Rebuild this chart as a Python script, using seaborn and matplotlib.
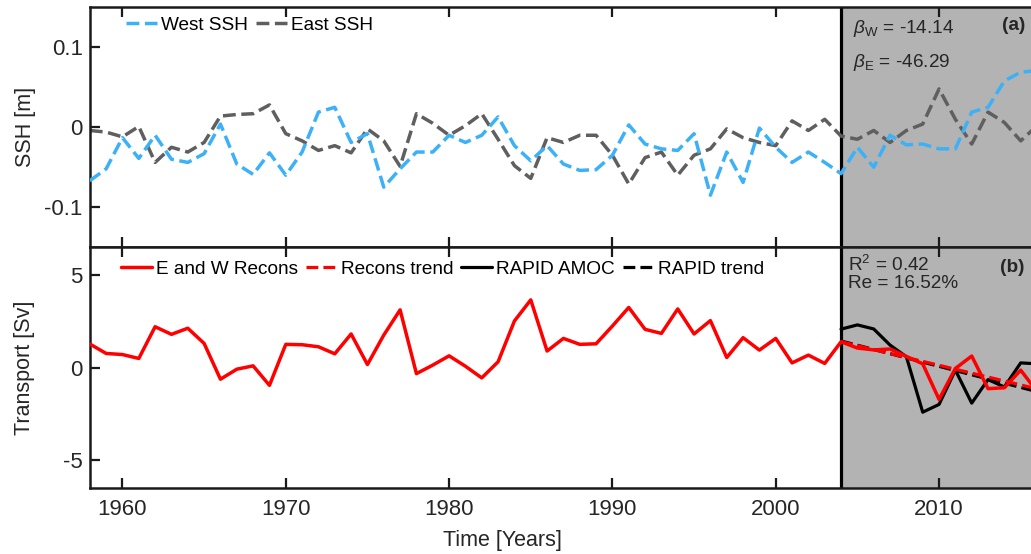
import numpy as np
import pandas as pd
import matplotlib
matplotlib.use('Agg')
import matplotlib.pyplot as plt
import seaborn as sns

# ---------------- data ----------------
years = list(range(1958, 2017))
west_ssh = [-0.067, -0.052, -0.013, -0.039, -0.010, -0.040, -0.044, -0.033, 0.004, -0.046,
            -0.059, -0.032, -0.060, -0.031, 0.019, 0.025, -0.019, -0.008, -0.075, -0.052,
            -0.031, -0.031, -0.010, -0.019, -0.010, 0.013, -0.023, -0.042, -0.023, -0.046,
            -0.054, -0.053, -0.035, 0.003, -0.021, -0.027, -0.029, -0.008, -0.085, -0.031,
            -0.069, -0.001, -0.025, -0.044, -0.031, -0.044, -0.058, -0.025, -0.050, -0.010,
            -0.022, -0.021, -0.027, -0.027, 0.019, 0.025, 0.058, 0.069, 0.071]
east_ssh = [-0.004, -0.006, -0.012, 0.001, -0.044, -0.025, -0.031, -0.019, 0.014, 0.016,
            0.017, 0.028, -0.008, -0.017, -0.029, -0.023, -0.032, -0.002, -0.017, -0.049,
            0.017, 0.005, -0.010, 0.002, 0.017, -0.015, -0.048, -0.064, -0.013, -0.019,
            -0.010, -0.010, -0.035, -0.071, -0.038, -0.031, -0.060, -0.035, -0.027, -0.002,
            -0.013, -0.019, -0.023, 0.008, -0.004, 0.010, -0.011, -0.015, -0.004, -0.019,
            -0.004, 0.004, 0.048, 0.010, -0.021, 0.019, 0.006, -0.017, 0.002]
recon = [1.27, 0.76, 0.70, 0.49, 2.20, 1.79, 2.12, 1.30, -0.63, -0.09,
         0.09, -0.96, 1.25, 1.23, 1.12, 0.74, 1.81, 0.16, 1.75, 3.11,
         -0.33, 0.13, 0.63, 0.07, -0.56, 0.31, 2.51, 3.65, 0.89, 1.57,
         1.25, 1.28, 2.24, 3.24, 2.06, 1.84, 3.16, 1.81, 2.53, 0.54,
         1.61, 0.94, 1.57, 0.25, 0.67, 0.22, 1.39, 1.05, 0.95, 1.00,
         0.60, 0.20, -1.72, -0.05, 0.62, -1.14, -1.09, -0.14, -1.30]
rapid_years = list(range(2004, 2017))
rapid = [2.07, 2.30, 2.08, 1.21, 0.58, -2.41, -1.99, -0.14, -1.92, -0.65, -1.05, 0.25, 0.20]
trend_years = [2004, 2016]
recon_trend = [1.39, -1.15]
rapid_trend = [1.43, -1.30]

x_ticks = [1960, 1970, 1980, 1990, 2000, 2010]
ssh_ticks = [-0.1, 0, 0.1]
ssh_ticklabels = ['-0.1', '0', '0.1']
tr_ticks = [-5, 0, 5]
tr_ticklabels = ['-5', '0', '5']
obs_start = 2004

# ---------------- style ----------------
sns.set_style('ticks')
plt.rcParams['font.family'] = ['Liberation Sans', 'DejaVu Sans']
plt.rcParams['mathtext.fontset'] = 'custom'
plt.rcParams['mathtext.rm'] = 'Liberation Sans'
plt.rcParams['mathtext.it'] = 'Liberation Sans:italic'
plt.rcParams['mathtext.bf'] = 'Liberation Sans:bold'

TXT = '#262626'
SPINE = '#1a1a1a'
BLUE = '#3cb1f7'
GRAY = '#5f5f5f'
SHADE = '#b3b3b3'
TICKFS = 16
LEGFS = 13.7
LABFS = 15.5
ANNFS = 13.7

fig = plt.figure(figsize=(10.31, 5.54), dpi=100)
ax1 = fig.add_axes([0.0871, 0.554, 0.9129, 0.4325])
ax2 = fig.add_axes([0.0871, 0.1191, 0.9129, 0.435])

ssh_df = pd.DataFrame({'year': years, 'west': west_ssh, 'east': east_ssh})
tr_df = pd.DataFrame({'year': years, 'recon': recon})
rp_df = pd.DataFrame({'year': rapid_years, 'rapid': rapid})
trd_df = pd.DataFrame({'year': trend_years, 'recon_t': recon_trend, 'rapid_t': rapid_trend})

for ax in (ax1, ax2):
    ax.axvspan(obs_start, 2030, color=SHADE, lw=0, zorder=0)
    ax.axvline(obs_start, color='black', lw=2.3, zorder=1)

# top panel
sns.lineplot(data=ssh_df, x='year', y='west', ax=ax1, color=BLUE, lw=2.5,
             linestyle='--', label='West SSH', zorder=3)
sns.lineplot(data=ssh_df, x='year', y='east', ax=ax1, color=GRAY, lw=2.5,
             linestyle='--', label='East SSH', zorder=2)

# bottom panel
sns.lineplot(data=tr_df, x='year', y='recon', ax=ax2, color='red', lw=2.5,
             label='E and W Recons', zorder=3)
sns.lineplot(data=trd_df, x='year', y='recon_t', ax=ax2, color='red', lw=2.3,
             linestyle='--', label='Recons trend', zorder=3)
sns.lineplot(data=rp_df, x='year', y='rapid', ax=ax2, color='black', lw=2.3,
             label='RAPID AMOC', zorder=2)
sns.lineplot(data=trd_df, x='year', y='rapid_t', ax=ax2, color='black', lw=2.3,
             linestyle='--', label='RAPID trend', zorder=2)

xmax = 2015.63
for ax in (ax1, ax2):
    ax.set_xlim(1958, xmax)
    ax.set_xticks(x_ticks)
    ax.tick_params(axis='both', direction='in', length=7, width=1.6, colors=SPINE,
                   labelcolor=TXT, labelsize=TICKFS, top=True, right=False, pad=5)
    ax.tick_params(axis='x', pad=8)
    for s in ('left', 'top', 'bottom'):
        ax.spines[s].set_linewidth(1.8)
        ax.spines[s].set_color(SPINE)
        ax.spines[s].set_visible(True)
    ax.spines['right'].set_visible(False)
    ax.set_xlabel('')

ax1.set_ylim(-0.15, 0.15)
ax1.set_yticks(ssh_ticks)
ax1.set_yticklabels(ssh_ticklabels)
ax1.tick_params(axis='x', labelbottom=False)
ax1.set_ylabel('SSH [m]', fontsize=LABFS, color=TXT)
ax1.yaxis.set_label_coords(-0.057, 0.5)

ax2.set_ylim(-6.5, 6.5)
ax2.set_yticks(tr_ticks)
ax2.set_yticklabels(tr_ticklabels)
ax2.set_ylabel('Transport [Sv]', fontsize=LABFS, color=TXT)
ax2.yaxis.set_label_coords(-0.058, 0.5)
ax2.set_xlabel('Time [Years]', fontsize=LABFS, color=TXT)
ax2.xaxis.set_label_coords(0.438, -0.175)

leg_kw = dict(frameon=False, loc='center left', borderaxespad=0, borderpad=0,
              handlelength=1.65, handletextpad=0.2, columnspacing=0.4,
              fontsize=LEGFS, labelcolor='black')
ax1.legend(ncol=2, bbox_to_anchor=(0.0385, 0.927), **leg_kw)
ax2.legend(ncol=4, bbox_to_anchor=(0.033, 0.909), **leg_kw)

# annotations
ax1.text(0.8106, 0.8935, r'$\beta_{\rm W}$ = -14.14', transform=ax1.transAxes,
         fontsize=ANNFS, color=TXT, va='baseline', ha='left')
ax1.text(0.8106, 0.7516, r'$\beta_{\rm E}$ = -46.29', transform=ax1.transAxes,
         fontsize=ANNFS, color=TXT, va='baseline', ha='left')
ax1.text(0.9936, 0.906, '(a)', transform=ax1.transAxes, fontsize=ANNFS,
         fontweight='bold', color=TXT, va='baseline', ha='right')
ax2.text(0.8056, 0.9004, r'R$^2$ = 0.42', transform=ax2.transAxes,
         fontsize=ANNFS, color=TXT, va='baseline', ha='left')
ax2.text(0.8056, 0.830, 'Re = 16.52%', transform=ax2.transAxes,
         fontsize=ANNFS, color=TXT, va='baseline', ha='left')
ax2.text(0.9936, 0.896, '(b)', transform=ax2.transAxes, fontsize=ANNFS,
         fontweight='bold', color=TXT, va='baseline', ha='right')

fig.savefig('out.png', dpi=100)
